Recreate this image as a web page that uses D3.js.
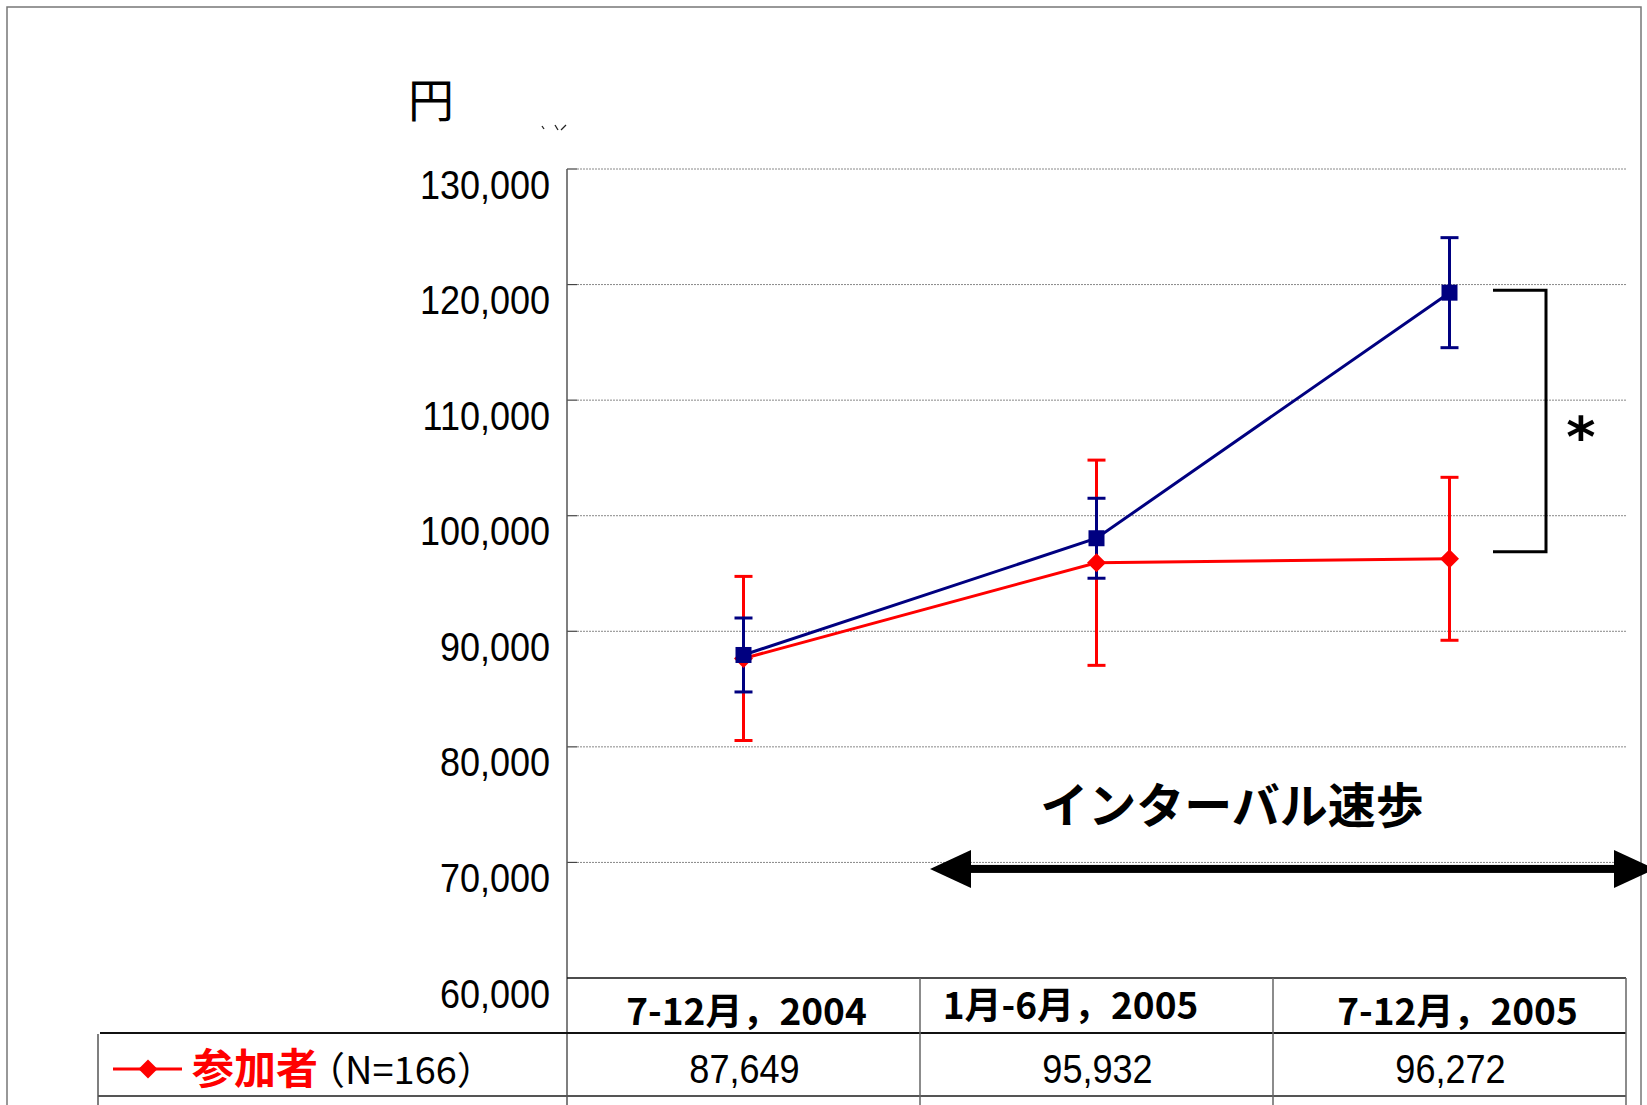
<!DOCTYPE html>
<html><head><meta charset="utf-8">
<script src="https://cdn.jsdelivr.net/npm/d3@7"></script>
<style>body{margin:0;background:#fff}svg{display:block}</style>
</head><body><svg id="c" width="1647" height="1105"></svg>
<script>
// ---- data ----
const categories = ["7-12月，2004", "1月-6月，2005", "7-12月，2005"];
const participantValues = [87649, 95932, 96272];
const participantErrors = [7100, 8880, 7050];
const controlValues = [87950, 98050, 119300];
const controlErrors = [3200, 3460, 4760];
const yTicks = [60000, 70000, 80000, 90000, 100000, 110000, 120000, 130000];
const participantName = "参加者";
const participantN = "（N=166）";
const unitLabel = "円";
const periodLabel = "インターバル速歩";
const sigMark = "*";

// ---- layout ----
const svg = d3.select("#c");
const RED = "#ff0000", NAVY = "#000080";
const JP = "'Noto Sans CJK JP','Noto Sans CJK SC',sans-serif";
const LAT = "'Liberation Sans',Arial,sans-serif";
const x = d3.scaleBand().domain(categories).range([567, 1626]).padding(0);
const cx = c => x(c) + x.bandwidth() / 2;
const y = d3.scaleLinear().domain([60000, 130000]).range([978, 169]);
const fmt = d3.format(",");

// outer frame
svg.append("path").attr("d", "M7,1105 V7 H1641 V1105")
  .attr("fill", "none").attr("stroke", "#777").attr("stroke-width", 1.5);

// unit label
svg.append("text").attr("x", 431).attr("y", 97).attr("text-anchor", "middle")
  .attr("dominant-baseline", "central").attr("font-family", JP).attr("font-size", 46)
  .text(unitLabel);
// tiny clipped remnants
[[542,126,544,129],[555,125,558,130],[566,125,561,130]].forEach(s =>
  svg.append("line").attr("x1", s[0]).attr("y1", s[1]).attr("x2", s[2]).attr("y2", s[3])
    .attr("stroke", "#222").attr("stroke-width", 1.3));

// gridlines
const gt = yTicks.filter(t => t > 60000);
svg.append("g").selectAll("line").data(gt).join("line")
  .attr("x1", 577).attr("x2", 1626).attr("y1", d => y(d)).attr("y2", d => y(d))
  .attr("stroke", "#888").attr("stroke-width", 1).attr("stroke-dasharray", "2,1");
svg.append("g").selectAll("line").data(gt).join("line")
  .attr("x1", 567).attr("x2", 577).attr("y1", d => y(d)).attr("y2", d => y(d))
  .attr("stroke", "#444").attr("stroke-width", 1.2);

// y axis labels
const ax = svg.append("g").attr("transform", "translate(550,0)")
  .call(d3.axisLeft(y).tickValues(yTicks).tickFormat(fmt).tickSize(0).tickPadding(0));
ax.select(".domain").remove();
ax.selectAll("text").attr("dy", null).attr("y", 29).attr("x", 0)
  .attr("font-family", LAT).attr("font-size", 40).attr("fill", "#000")
  .attr("text-anchor", "end").attr("transform", "scale(0.9,1)");

// axis + table lines
const L = (x1, y1, x2, y2, c, w) => svg.append("line").attr("x1", x1).attr("y1", y1)
  .attr("x2", x2).attr("y2", y2).attr("stroke", c).attr("stroke-width", w);
L(567, 169, 567, 1105, "#555", 1.5);
L(567, 978, 1626, 978, "#111", 1.5);
L(100, 1033, 1626, 1033, "#111", 2);
L(98, 1096, 1626, 1096, "#555", 2);
L(98, 1034, 98, 1105, "#555", 1.5);
categories.forEach(c => L(x(c) + x.bandwidth(), 978, x(c) + x.bandwidth(), 1105, "#666", 1.5));

// header labels
const hdx = [3, -26, 8], hdy = [0, -6, 0];
svg.append("g").selectAll("text").data(categories).join("text")
  .attr("x", (d, i) => cx(d) + hdx[i]).attr("y", (d, i) => 1025 + hdy[i])
  .attr("text-anchor", "middle").attr("font-family", JP).attr("font-weight", "bold")
  .attr("font-size", 37).text(d => d);

// table row values
svg.append("g").selectAll("text").data(participantValues).join("text")
  .attr("transform", (d, i) => `translate(${cx(categories[i]) + 1},1083) scale(0.88,1)`)
  .attr("text-anchor", "middle").attr("font-family", LAT).attr("font-size", 41)
  .text(d => fmt(d));

// legend
const diamond = r => `M0,${-r} L${r},0 L0,${r} L${-r},0 Z`;
L(113, 1069, 182, 1069, RED, 3);
svg.append("path").attr("d", diamond(9.5)).attr("transform", "translate(148,1069)").attr("fill", RED);
svg.append("text").attr("x", 192).attr("y", 1065).attr("dominant-baseline", "central")
  .attr("font-family", JP).attr("font-weight", "bold").attr("font-size", 42).attr("fill", RED)
  .text(participantName);
svg.append("text").attr("x", 307).attr("y", 1067).attr("dominant-baseline", "central")
  .attr("font-family", JP).attr("font-size", 38).attr("fill", "#000")
  .text(participantN);

// annotation: interval walking arrow
const ay = y(70000) + 6.5;
const ax0 = x(categories[1]) + 10, ax1 = 1655;
svg.append("rect").attr("x", ax0 + 35).attr("y", ay - 4).attr("width", ax1 - ax0 - 70).attr("height", 8).attr("fill", "#000");
svg.append("path").attr("d", `M${ax0},${ay} L${ax0 + 41},${ay - 19} L${ax0 + 41},${ay + 19} Z`).attr("fill", "#000");
svg.append("path").attr("d", `M${ax1},${ay} L${ax1 - 41},${ay - 19} L${ax1 - 41},${ay + 19} Z`).attr("fill", "#000");
svg.append("text").attr("x", 1232).attr("y", 802).attr("text-anchor", "middle")
  .attr("dominant-baseline", "central").attr("font-family", JP).attr("font-weight", "bold")
  .attr("font-size", 48).text(periodLabel);

// significance bracket
const bTop = y(controlValues[2]) - 2.5, bBot = y(participantValues[2]) - 7;
svg.append("path").attr("d", `M1493,${bTop} H1546 V${bBot} H1493`)
  .attr("fill", "none").attr("stroke", "#000").attr("stroke-width", 3);
svg.append("text").attr("x", 1581).attr("y", 456).attr("text-anchor", "middle")
  .attr("font-family", "'DejaVu Sans',sans-serif").attr("font-weight", "bold")
  .attr("font-size", 56).text(sigMark);

// error bars
function errBars(vals, errs, color) {
  const g = svg.append("g").attr("stroke", color).attr("stroke-width", 3);
  vals.forEach((v, i) => {
    const px = cx(categories[i]);
    g.append("line").attr("x1", px).attr("x2", px).attr("y1", y(v - errs[i])).attr("y2", y(v + errs[i]));
    [v - errs[i], v + errs[i]].forEach(e =>
      g.append("line").attr("x1", px - 9).attr("x2", px + 9).attr("y1", y(e)).attr("y2", y(e)));
  });
}
errBars(participantValues, participantErrors, RED);
errBars(controlValues, controlErrors, NAVY);

const line = d3.line().x((d, i) => cx(categories[i])).y(d => y(d));
// participants
svg.append("path").datum(participantValues).attr("d", line).attr("fill", "none")
  .attr("stroke", RED).attr("stroke-width", 3);
svg.append("g").selectAll("path").data(participantValues).join("path")
  .attr("d", diamond(9.5)).attr("transform", (d, i) => `translate(${cx(categories[i])},${y(d)})`)
  .attr("fill", RED);
// control
svg.append("path").datum(controlValues).attr("d", line).attr("fill", "none")
  .attr("stroke", NAVY).attr("stroke-width", 3);
svg.append("g").selectAll("rect").data(controlValues).join("rect")
  .attr("x", (d, i) => cx(categories[i]) - 8).attr("y", d => y(d) - 8)
  .attr("width", 16).attr("height", 16).attr("fill", NAVY);
</script></body></html>
